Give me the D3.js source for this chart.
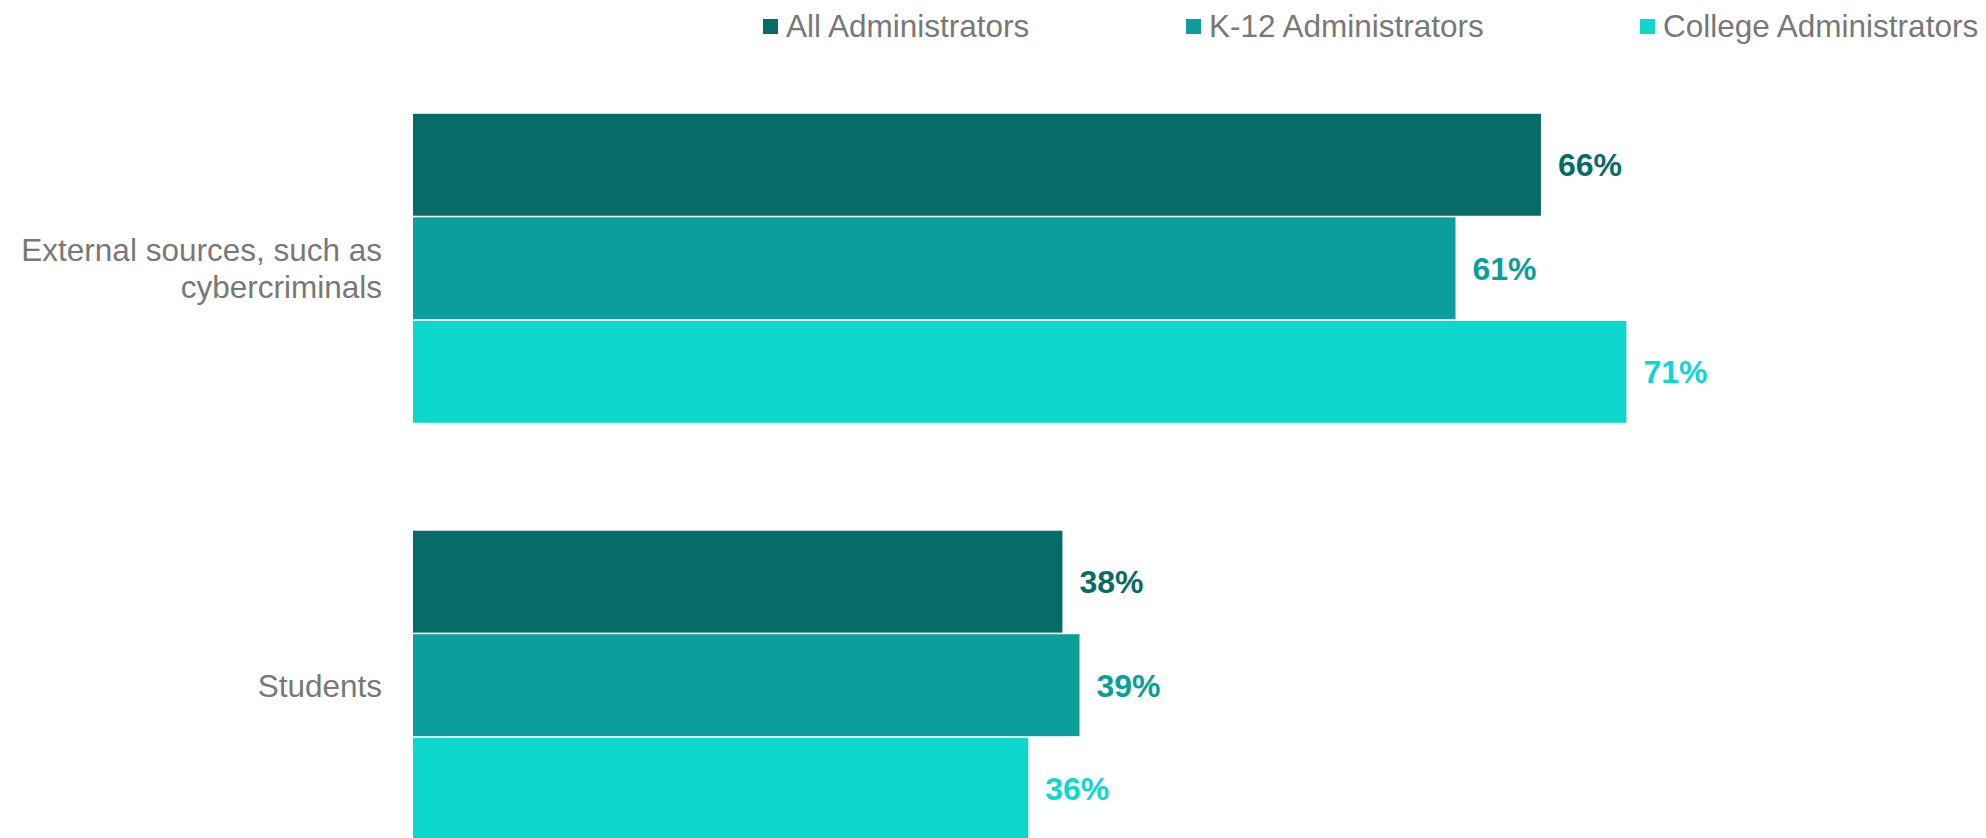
<!DOCTYPE html>
<html>
<head>
<meta charset="utf-8">
<script src="https://cdn.jsdelivr.net/npm/d3@7"></script>
<style>
html,body{margin:0;padding:0;background:#fff;}
svg{display:block;}
</style>
</head>
<body>
<svg id="chart" width="1986" height="838"></svg>
<script>
const categories = ["External sources, such as cybercriminals", "Students"];
const categoryLines = [["External sources, such as", "cybercriminals"], ["Students"]];
const seriesNames = ["All Administrators", "K-12 Administrators", "College Administrators"];
const allAdmins = [66, 38];
const k12Admins = [61, 39];
const collegeAdmins = [71, 36];
const seriesColors = ["#076b67", "#0b9e9a", "#0ed8ce"];

const seriesValues = [allAdmins, k12Admins, collegeAdmins];
const svg = d3.select("#chart");
const font = "'Liberation Sans', Arial, sans-serif";
const textGray = "#787878";

const x = d3.scaleLinear().domain([0, 100]).range([413, 2122]);
const y0 = d3.scaleBand().domain(categories).range([113, 840.5]).paddingInner(0.255).paddingOuter(0);
const y1 = d3.scaleBand().domain(seriesNames).range([0, y0.bandwidth()]).padding(0);

const rows = [];
categories.forEach((c, ci) => {
  seriesNames.forEach((s, si) => {
    rows.push({cat: c, ci, series: s, si, value: seriesValues[si][ci]});
  });
});

const g = svg.append("g");
g.selectAll("rect.bar").data(rows).join("rect")
  .attr("class", "bar")
  .attr("x", x(0))
  .attr("y", d => y0(d.cat) + y1(d.series) + 0.8)
  .attr("width", d => x(d.value) - x(0))
  .attr("height", y1.bandwidth() - 1.6)
  .attr("fill", d => seriesColors[d.si]);

g.selectAll("text.val").data(rows).join("text")
  .attr("class", "val")
  .attr("x", d => x(d.value) + 17)
  .attr("y", d => y0(d.cat) + y1(d.series) + y1.bandwidth() / 2)
  .attr("dy", "0.36em")
  .attr("font-family", font)
  .attr("font-weight", "bold")
  .attr("font-size", 32)
  .attr("fill", d => seriesColors[d.si])
  .text(d => d.value + "%");

// category labels
categories.forEach((c, ci) => {
  const lines = categoryLines[ci];
  const lh = 37;
  const cy = y0(c) + y0.bandwidth() / 2;
  const t = svg.append("text")
    .attr("text-anchor", "end")
    .attr("font-family", font)
    .attr("font-size", 31.5)
    .attr("fill", textGray);
  lines.forEach((ln, li) => {
    t.append("tspan")
      .attr("x", 382)
      .attr("y", cy + (li - (lines.length - 1) / 2) * lh)
      .attr("dy", "0.36em")
      .text(ln);
  });
});

// legend
const legendX = [786, 1209, 1663];
const legend = svg.append("g");
seriesNames.forEach((s, i) => {
  legend.append("rect")
    .attr("x", legendX[i] - 23)
    .attr("y", 19)
    .attr("width", 15)
    .attr("height", 15)
    .attr("fill", seriesColors[i]);
  legend.append("text")
    .attr("x", legendX[i])
    .attr("y", 26)
    .attr("dy", "0.36em")
    .attr("font-family", font)
    .attr("font-size", 31.5)
    .attr("fill", textGray)
    .text(s);
});
</script>
</body>
</html>
